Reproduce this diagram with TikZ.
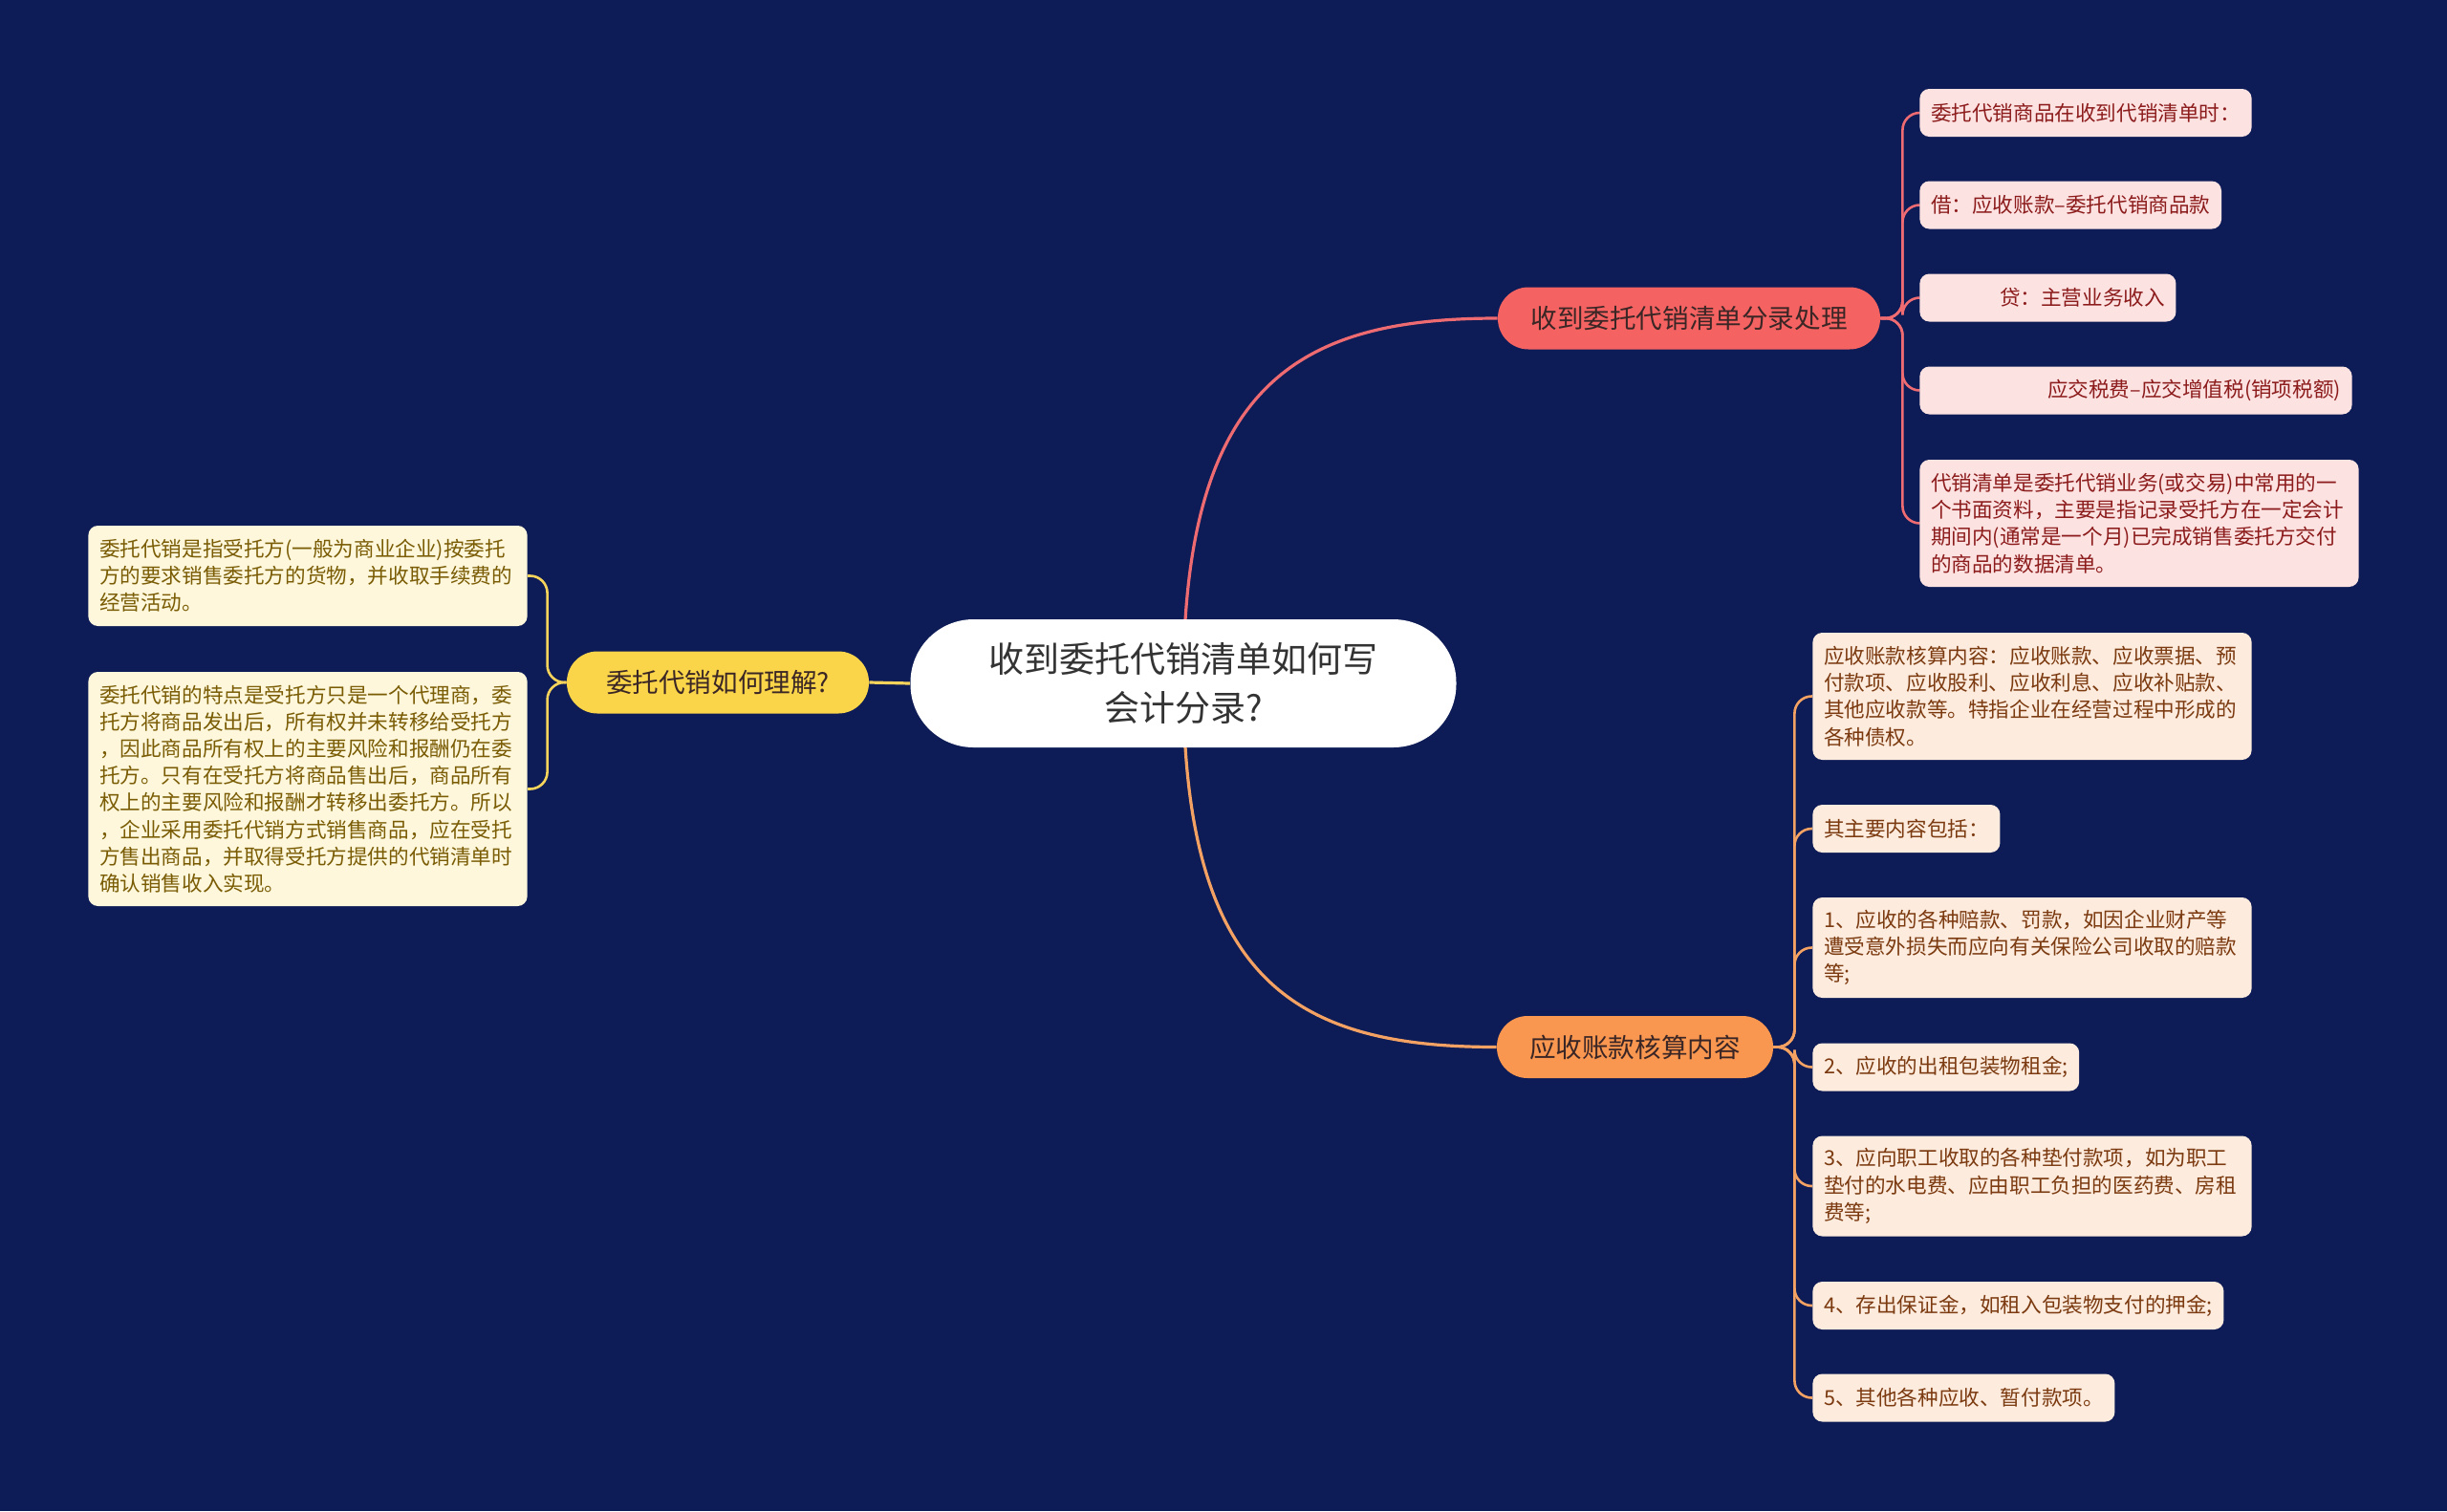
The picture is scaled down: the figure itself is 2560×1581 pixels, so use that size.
\documentclass[tikz,border=0pt]{standalone}
\usepackage{fontspec}
\setmainfont{Noto Sans CJK SC}
\usetikzlibrary{calc,backgrounds}

\definecolor{bgnavy}{HTML}{0D1C56}
\definecolor{rootink}{HTML}{333333}
\definecolor{mainink}{HTML}{3B2626}
\definecolor{redmain}{HTML}{F56262}
\definecolor{redline}{HTML}{EE6B72}
\definecolor{redleaf}{HTML}{FDE2E2}
\definecolor{redink}{HTML}{8C1C1C}
\definecolor{orgmain}{HTML}{F9964F}
\definecolor{orgline}{HTML}{F4A263}
\definecolor{orgleaf}{HTML}{FDEBDD}
\definecolor{orgink}{HTML}{7B3A10}
\definecolor{ylwmain}{HTML}{FAD449}
\definecolor{ylwline}{HTML}{F6D45C}
\definecolor{ylwleaf}{HTML}{FEF7DB}
\definecolor{ylwink}{HTML}{7A5C05}

\begin{document}
\begin{tikzpicture}[x=0.5pt,y=-0.5pt,
  rootbox/.style={fill=white,text=rootink,rounded corners=33pt,minimum width=285.5pt,
    minimum height=67pt,align=center,font=\fontsize{18.5}{25.3}\selectfont},
  mainbox/.style={rounded corners=16pt,minimum height=32.5pt,text=mainink,
    font=\fontsize{13.8}{16}\selectfont},
  leafbox/.style={rounded corners=5pt,minimum height=25pt,inner xsep=5.8pt,inner ysep=3pt,
    font=\fontsize{10.8}{14.1}\selectfont},
  parabox/.style={text width=218pt,align=left},
  recleaf/.style={leafbox,fill=redleaf,text=redink,anchor=west},
  arleaf/.style={leafbox,fill=orgleaf,text=orgink,anchor=west},
  undleaf/.style={leafbox,fill=ylwleaf,text=ylwink,anchor=east},
  link/.style={line width=1.3pt,rounded corners=9pt}]
  \begin{scope}[on background layer]
    \fill[bgnavy] (0,0) rectangle (2560,1581);
  \end{scope}

  % centre and main branches
  \node[rootbox] (root) at (1238,715) {收到委托代销清单如何写\\会计分录?};
  \node[mainbox,fill=redmain,minimum width=200pt] (rec) at (1767,333) {收到委托代销清单分录处理};
  \node[mainbox,fill=orgmain,minimum width=144.5pt] (ar) at (1710.5,1095.5) {应收账款核算内容};
  \node[mainbox,fill=ylwmain,minimum width=158pt] (und) at (751,714) {委托代销如何理解?};

  % entries on receipt of the list
  \node[recleaf] (rec1) at (2008,118) {委托代销商品在收到代销清单时：};
  \node[recleaf] (rec2) at (2008,214.5) {借：应收账款–委托代销商品款};
  \node[recleaf] (rec3) at (2008,311.5) {\hspace*{36pt}贷：主营业务收入};
  \node[recleaf] (rec4) at (2008,408.5) {\hspace*{61pt}应交税费–应交增值税(销项税额)};
  \node[recleaf,parabox,minimum height=66.5pt] (rec5) at (2008,547.5)
    {代销清单是委托代销业务(或交易)中常用的一\\个书面资料，主要是指记录受托方在一定会计\\期间内(通常是一个月)已完成销售委托方交付\\的商品的数据清单。};

  % receivables
  \node[arleaf,parabox,minimum height=66.5pt] (ar1) at (1896,728.5)
    {应收账款核算内容：应收账款、应收票据、预\\付款项、应收股利、应收利息、应收补贴款、\\其他应收款等。特指企业在经营过程中形成的\\各种债权。};
  \node[arleaf] (ar2) at (1896,867) {其主要内容包括：};
  \node[arleaf,parabox,minimum height=52.5pt] (ar3) at (1896,991.5)
    {1、应收的各种赔款、罚款，如因企业财产等\\遭受意外损失而应向有关保险公司收取的赔款\\等;};
  \node[arleaf] (ar4) at (1896,1116.5) {2、应收的出租包装物租金;};
  \node[arleaf,parabox,minimum height=52.5pt] (ar5) at (1896,1241)
    {3、应向职工收取的各种垫付款项，如为职工\\垫付的水电费、应由职工负担的医药费、房租\\费等;};
  \node[arleaf] (ar6) at (1896,1366) {4、存出保证金，如租入包装物支付的押金;};
  \node[arleaf] (ar7) at (1896,1462.5) {5、其他各种应收、暂付款项。};

  % understanding
  \node[undleaf,parabox,minimum height=52.5pt] (und1) at (552,602.5)
    {委托代销是指受托方(一般为商业企业)按委托\\方的要求销售委托方的货物，并收取手续费的\\经营活动。};
  \node[undleaf,parabox,minimum height=122.5pt] (und2) at (552,825.5)
    {委托代销的特点是受托方只是一个代理商，委\\托方将商品发出后，所有权并未转移给受托方\\，因此商品所有权上的主要风险和报酬仍在委\\托方。只有在受托方将商品售出后，商品所有\\权上的主要风险和报酬才转移出委托方。所以\\，企业采用委托代销方式销售商品，应在受托\\方售出商品，并取得受托方提供的代销清单时\\确认销售收入实现。};

  \coordinate (recj) at ($(rec.east)+(23,0)$);
  \coordinate (arj) at ($(ar.east)+(22,0)$);
  \coordinate (undj) at ($(und.west)+(-20,0)$);

  \begin{scope}[on background layer]
    \draw[line width=1.6pt,redline] (root.center) .. controls ($(root.center)+(0,-315)$)
      and ($(rec.west)+(-207,0)$) .. (rec.west);
    \draw[line width=1.6pt,orgline] (root.center) .. controls ($(root.center)+(0,315)$)
      and ($(ar.west)+(-207,0)$) .. (ar.west);
    \draw[line width=1.6pt,ylwline] (root.west) -- (und.east);
    \foreach \leaf in {rec1,rec2,rec3,rec4,rec5}
      \draw[link,redline] (rec.east) -- (recj) |- (\leaf.west);
    \foreach \leaf in {ar1,ar2,ar3,ar4,ar5,ar6,ar7}
      \draw[link,orgline] (ar.east) -- (arj) |- (\leaf.west);
    \foreach \leaf in {und1,und2}
      \draw[link,ylwline] (und.west) -- (undj) |- (\leaf.east);
  \end{scope}
\end{tikzpicture}
\end{document}
